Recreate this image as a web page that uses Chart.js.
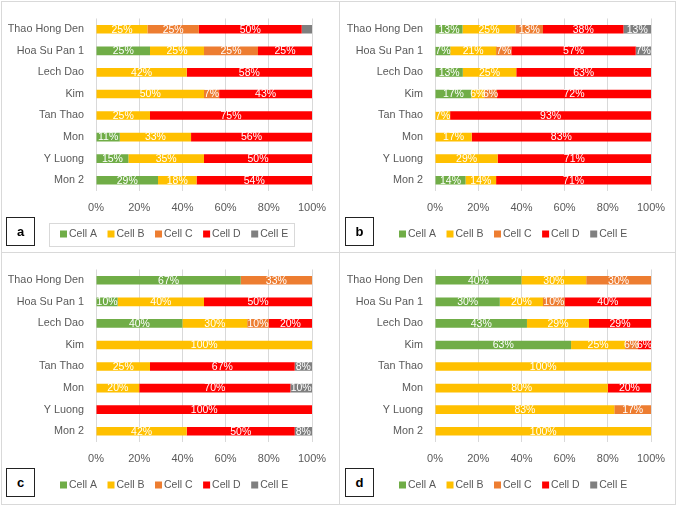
<!DOCTYPE html>
<html>
<head>
<meta charset="utf-8">
<script src="https://cdn.jsdelivr.net/npm/chart.js@4.4.1/dist/chart.umd.min.js"></script>
<style>
  html, body { margin:0; padding:0; background:#ffffff; }
  #wrap { position:relative; width:677px; height:506px; overflow:hidden; font-family:"Liberation Sans", Arial, sans-serif; }
  .pane { position:absolute; width:338px; height:251px; }
  .line { position:absolute; background:#d9d9d9; }
  .tag { position:absolute; width:27px; height:27px; border:1.5px solid #222; background:#fff;
         font-weight:bold; font-size:13px; line-height:27px; text-align:center; color:#000; }
  .legbox { position:absolute; border:1px solid #d9d9d9; }
</style>
</head>
<body>
<div id="wrap">
  <div class="pane" style="left:0;top:0"><canvas id="ca" width="338" height="251"></canvas></div>
  <div class="pane" style="left:339px;top:0"><canvas id="cb" width="338" height="251"></canvas></div>
  <div class="pane" style="left:0;top:251px"><canvas id="cc" width="338" height="251"></canvas></div>
  <div class="pane" style="left:339px;top:251px"><canvas id="cd" width="338" height="251"></canvas></div>

  <div class="line" style="left:1px;top:1px;width:675px;height:1px"></div>
  <div class="line" style="left:1px;top:504px;width:675px;height:1px"></div>
  <div class="line" style="left:1px;top:1px;width:1px;height:504px"></div>
  <div class="line" style="left:675px;top:1px;width:1px;height:504px"></div>
  <div class="line" style="left:339px;top:1px;width:1px;height:504px"></div>
  <div class="line" style="left:1px;top:252px;width:675px;height:1px"></div>

  <div class="legbox" style="left:49px;top:223px;width:244px;height:22px"></div>

  <div class="tag" style="left:6px;top:217px">a</div>
  <div class="tag" style="left:345px;top:217px">b</div>
  <div class="tag" style="left:6px;top:468px">c</div>
  <div class="tag" style="left:345px;top:468px">d</div>
</div>
<script>
// ---------- data ----------
const categories = ["Thao Hong Den", "Hoa Su Pan 1", "Lech Dao", "Kim", "Tan Thao", "Mon", "Y Luong", "Mon 2"];
const seriesNames = ["Cell A", "Cell B", "Cell C", "Cell D", "Cell E"];
const seriesColors = ["#70AD47", "#FFC000", "#ED7D31", "#FF0000", "#7F7F7F"];
const xTickLabels = ["0%", "20%", "40%", "60%", "80%", "100%"];

// panel a (values per category, order: Cell A..E)
const panelA_cellA = [0, 25, 0, 0, 0, 11, 15, 29];
const panelA_cellB = [25, 25, 42, 50, 25, 33, 35, 18];
const panelA_cellC = [25, 25, 0, 7, 0, 0, 0, 0];
const panelA_cellD = [50, 25, 58, 43, 75, 56, 50, 54];
const panelA_cellE = [5, 0, 0, 0, 0, 0, 0, 0];
const panelA_unlabeledE = [true, false, false, false, false, false, false, false];

// panel b
const panelB_cellA = [13, 7, 13, 17, 0, 0, 0, 14];
const panelB_cellB = [25, 21, 25, 6, 7, 17, 29, 14];
const panelB_cellC = [13, 7, 0, 6, 0, 0, 0, 0];
const panelB_cellD = [38, 57, 63, 72, 93, 83, 71, 71];
const panelB_cellE = [13, 7, 0, 0, 0, 0, 0, 0];

// panel c
const panelC_cellA = [67, 10, 40, 0, 0, 0, 0, 0];
const panelC_cellB = [0, 40, 30, 100, 25, 20, 0, 42];
const panelC_cellC = [33, 0, 10, 0, 0, 0, 0, 0];
const panelC_cellD = [0, 50, 20, 0, 67, 70, 100, 50];
const panelC_cellE = [0, 0, 0, 0, 8, 10, 0, 8];

// panel d
const panelD_cellA = [40, 30, 43, 63, 0, 0, 0, 0];
const panelD_cellB = [30, 20, 29, 25, 100, 80, 83, 100];
const panelD_cellC = [30, 10, 0, 6, 0, 0, 17, 0];
const panelD_cellD = [0, 40, 29, 6, 0, 20, 0, 0];
const panelD_cellE = [0, 0, 0, 0, 0, 0, 0, 0];

// ---------- helpers ----------
const FONT = '"Liberation Sans", Arial, sans-serif';
const TEXT_GREY = '#595959';

const segLabels = {
  id: 'segLabels',
  afterDatasetsDraw(chart) {
    const ctx = chart.ctx;
    ctx.save();
    ctx.font = '10.5px ' + FONT;
    ctx.fillStyle = '#ffffff';
    ctx.textAlign = 'center';
    ctx.textBaseline = 'middle';
    chart.data.datasets.forEach((ds, i) => {
      const meta = chart.getDatasetMeta(i);
      meta.data.forEach((bar, j) => {
        const raw = ds.rawValues[j];
        if (!raw) return;
        if (ds.noLabel && ds.noLabel[j]) return;
        const p = bar.getProps(['x', 'base', 'y'], true);
        ctx.fillText(raw + '%', (p.x + p.base) / 2, p.y + 0.5);
      });
    });
    ctx.restore();
  }
};

const customLegend = {
  id: 'customLegend',
  afterDraw(chart) {
    const ctx = chart.ctx;
    ctx.save();
    ctx.font = '10.5px ' + FONT;
    ctx.textBaseline = 'middle';
    ctx.textAlign = 'left';
    let x = chart.options.plugins.customLegend.startX;
    const y = 234;
    chart.data.datasets.forEach(ds => {
      ctx.fillStyle = ds.backgroundColor;
      ctx.fillRect(x, y - 3.5, 7, 7);
      x += 9;
      ctx.fillStyle = TEXT_GREY;
      ctx.fillText(ds.label, x, y);
      x += ctx.measureText(ds.label).width + 10.5;
    });
    ctx.restore();
  }
};

function makeChart(canvasId, cols, noLabelE) {
  const totals = categories.map((_, j) => cols.reduce((s, c) => s + c[j], 0));
  const datasets = cols.map((col, i) => ({
    label: seriesNames[i],
    backgroundColor: seriesColors[i],
    borderWidth: 0,
    rawValues: col,
    noLabel: i === 4 ? noLabelE : null,
    data: col.map((v, j) => totals[j] ? v / totals[j] * 100 : 0),
    categoryPercentage: 1.0,
    barPercentage: 0.4
  }));
  return new Chart(document.getElementById(canvasId), {
    type: 'bar',
    data: { labels: categories, datasets },
    plugins: [segLabels, customLegend],
    options: {
      indexAxis: 'y',
      responsive: false,
      animation: false,
      layout: { padding: { left: 0, right: 26, top: 16, bottom: 35 } },
      plugins: {
        legend: { display: false },
        tooltip: { enabled: false },
        customLegend: { startX: 60 }
      },
      scales: {
        x: {
          stacked: true,
          min: 0, max: 100,
          grid: { color: '#d9d9d9', drawTicks: false, lineWidth: 1 },
          border: { display: false },
          ticks: {
            stepSize: 20,
            padding: 10,
            color: TEXT_GREY,
            font: { family: FONT, size: 11 },
            callback: (v, idx) => xTickLabels[idx]
          },
          afterFit: s => { s.height = 25; }
        },
        y: {
          stacked: true,
          grid: { display: false, drawTicks: false },
          border: { display: false },
          ticks: {
            padding: 12,
            color: TEXT_GREY,
            font: { family: FONT, size: 10.8 }
          },
          afterFit: s => { s.width = 96; }
        }
      }
    }
  });
}

makeChart('ca', [panelA_cellA, panelA_cellB, panelA_cellC, panelA_cellD, panelA_cellE], panelA_unlabeledE);
makeChart('cb', [panelB_cellA, panelB_cellB, panelB_cellC, panelB_cellD, panelB_cellE], null);
makeChart('cc', [panelC_cellA, panelC_cellB, panelC_cellC, panelC_cellD, panelC_cellE], null);
makeChart('cd', [panelD_cellA, panelD_cellB, panelD_cellC, panelD_cellD, panelD_cellE], null);
</script>
</body>
</html>
